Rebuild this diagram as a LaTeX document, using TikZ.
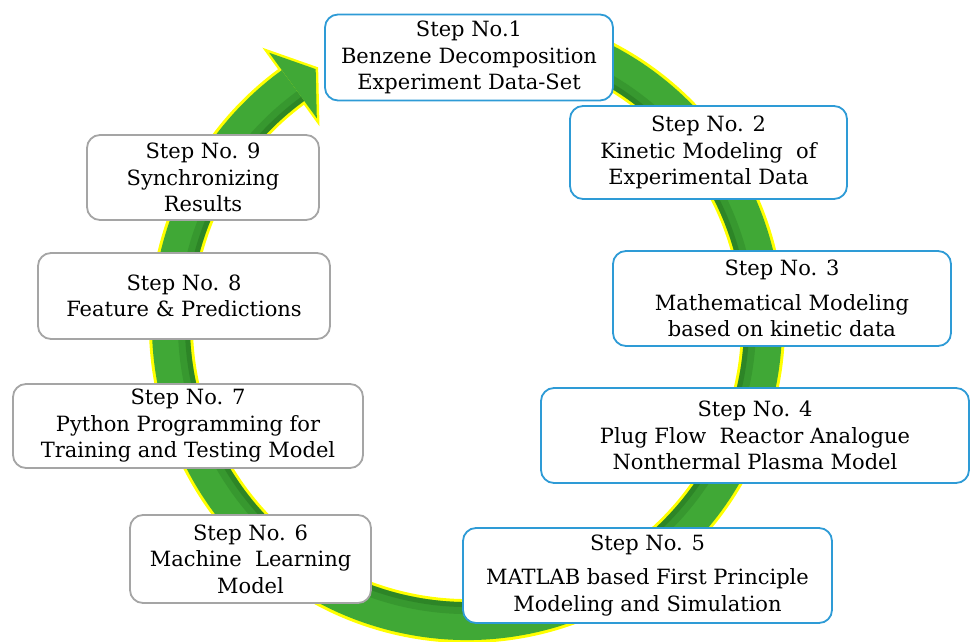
\documentclass[tikz,border=0pt]{standalone}
\usepackage{fontspec}
\setmainfont{DejaVu Serif}
\usepackage{xcolor}
\usetikzlibrary{arrows}

\definecolor{stepblue}{HTML}{2E9BD6}
\definecolor{stepgray}{HTML}{A5A5A5}
\definecolor{ringgreen}{HTML}{40A836}
\definecolor{ringdark}{HTML}{1F6A1B}
\definecolor{ringyellow}{HTML}{FFFF00}

\begin{document}
\begin{tikzpicture}[x=1pt,y=1pt,
  stepbox/.style={draw,fill=white,rounded corners=13pt,line width=1.8pt,align=center,
    inner sep=0pt,font=\fontsize{21}{26.5}\selectfont},
  bluestep/.style={stepbox,draw=stepblue},
  graystep/.style={stepbox,draw=stepgray}]

\useasboundingbox (0,0) rectangle (970,641);

\coordinate (c) at (467,316);

\begin{scope}[shift={(c)}]
\draw[ringyellow,line width=44] (75:296) arc[start angle=75,end angle=-234,radius=296];
\filldraw[ringyellow,line width=5,line join=miter] (126:255.5) -- (120.6:297.3) -- (126:336.5) -- cycle;
\draw[ringgreen,line width=38] (75:296) arc[start angle=75,end angle=-234,radius=296];
\draw[ringdark,opacity=0.25,line width=12] (75:283) arc[start angle=75,end angle=-234,radius=283];
\draw[ringdark,opacity=0.4,line width=5] (75:279.5) arc[start angle=75,end angle=-234,radius=279.5];
\fill[ringgreen] (126:255.5) -- (120.6:297.3) -- (126:336.5) -- cycle;
\end{scope}

\node[bluestep,minimum width=288,minimum height=86] (s1) at (469,583.5)
  {Step No.1\\Benzene Decomposition\\Experiment Data-Set};
\node[bluestep,minimum width=277,minimum height=93] (s2) at (708.5,488.5)
  {Step No. 2\\Kinetic Modeling\ \ of\\Experimental Data};
\node[bluestep,minimum width=338,minimum height=95] (s3) at (782,342.5)
  {Step No. 3\\[8pt]Mathematical Modeling\\based on kinetic data};
\node[bluestep,minimum width=428,minimum height=95] (s4) at (755,205.5)
  {Step No. 4\\Plug Flow\ \ Reactor Analogue\\Nonthermal Plasma Model};
\node[bluestep,minimum width=369,minimum height=95] (s5) at (647.5,65.5)
  {Step No. 5\\[8pt]MATLAB based First Principle\\Modeling and Simulation};
\node[graystep,minimum width=241,minimum height=88] (s6) at (250.5,82)
  {Step No. 6\\Machine\ \ Learning\\Model};
\node[graystep,minimum width=350,minimum height=84] (s7) at (188,215)
  {Step No. 7\\Python Programming for\\Training and Testing Model};
\node[graystep,minimum width=292,minimum height=86] (s8) at (184,345)
  {Step No. 8\\Feature \& Predictions};
\node[graystep,minimum width=232,minimum height=85] (s9) at (203,463.5)
  {Step No. 9\\Synchronizing\\Results};
\end{tikzpicture}
\end{document}
